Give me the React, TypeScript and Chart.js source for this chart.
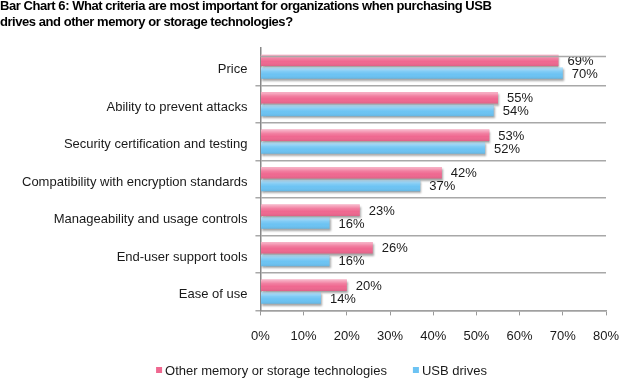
import React, { useEffect, useRef } from "react";
import { Chart, registerables } from "chart.js";

Chart.register(...registerables);

const titleLines = [
  "Bar Chart 6: What criteria are most important for organizations when purchasing USB",
  "drives and other memory or storage technologies?",
];
const categories = [
  "Price",
  "Ability to prevent attacks",
  "Security certification and testing",
  "Compatibility with encryption standards",
  "Manageability and usage controls",
  "End-user support tools",
  "Ease of use",
];
const otherMemory = [69, 55, 53, 42, 23, 26, 20];
const usbDrives = [70, 54, 52, 37, 16, 16, 14];
const seriesNames = ["Other memory or storage technologies", "USB drives"];
const seriesColors = ["#ef6890", "#6cc3f3"];
const xTicks = [0, 10, 20, 30, 40, 50, 60, 70, 80];

const FONT = "'Liberation Sans', Arial, sans-serif";

const barStyle = {
  id: "barStyle",
  beforeDatasetsDraw(chart: any) {
    const ctx = chart.ctx;
    ctx.save();
    ctx.shadowColor = "rgba(0,0,0,0.35)";
    ctx.shadowBlur = 2;
    ctx.shadowOffsetX = 1;
    ctx.shadowOffsetY = 2;
  },
  afterDatasetsDraw(chart: any) {
    const ctx = chart.ctx;
    ctx.restore();
    ctx.save();
    chart.data.datasets.forEach((ds: any, di: number) => {
      const meta = chart.getDatasetMeta(di);
      meta.data.forEach((bar: any, i: number) => {
        const top = bar.y - bar.height / 2;
        const h = bar.height;
        const left = Math.min(bar.base, bar.x);
        const w = Math.abs(bar.x - bar.base);
        const g = ctx.createLinearGradient(0, top, 0, top + h);
        g.addColorStop(0, "rgba(255,255,255,0.55)");
        g.addColorStop(0.35, "rgba(255,255,255,0.15)");
        g.addColorStop(0.6, "rgba(255,255,255,0)");
        g.addColorStop(1, "rgba(0,0,0,0.08)");
        ctx.fillStyle = g;
        ctx.fillRect(left, top, w, h);
        ctx.fillStyle = "#1a1a1a";
        ctx.font = `13px ${FONT}`;
        ctx.textAlign = "left";
        ctx.textBaseline = "middle";
        ctx.fillText(ds.data[i] + "%", bar.x + 9, bar.y + 1);
      });
    });
    const ys = chart.scales.y;
    const band = (ys.bottom - ys.top) / categories.length;
    const yTop = Math.round(ys.top + band * 0.22) + 0.5;
    ctx.strokeStyle = "#a8a8a8";
    ctx.lineWidth = 1.5;
    ctx.beginPath();
    ctx.moveTo(chart.chartArea.left, yTop);
    ctx.lineTo(chart.chartArea.right, yTop);
    ctx.stroke();
    ctx.restore();
  },
  afterDraw(chart: any) {
    const ctx = chart.ctx;
    // title
    ctx.save();
    ctx.font = `bold 13px ${FONT}`;
    (ctx as any).letterSpacing = "-0.45px";
    ctx.fillStyle = "#000";
    ctx.textAlign = "left";
    ctx.textBaseline = "alphabetic";
    titleLines.forEach((t, i) => ctx.fillText(t, 0, 10 + i * 16));
    ctx.restore();
    // legend
    ctx.save();
    ctx.font = `13px ${FONT}`;
    ctx.textBaseline = "middle";
    ctx.textAlign = "left";
    const box = 6;
    const gapBox = 3;
    const gapItem = 26;
    const widths = seriesNames.map((n) => box + gapBox + ctx.measureText(n).width);
    const total = widths.reduce((a, b) => a + b, 0) + gapItem * (widths.length - 1);
    let x = chart.width / 2 + 5 - total / 2;
    const y = chart.height - 19;
    seriesNames.forEach((n, i) => {
      ctx.fillStyle = seriesColors[i];
      ctx.fillRect(x, y - box / 2 - 1, box, box);
      ctx.fillStyle = "#1a1a1a";
      ctx.fillText(n, x + box + gapBox, y);
      x += widths[i] + gapItem;
    });
    ctx.restore();
  },
};

export default function App() {
  const ref = useRef<HTMLCanvasElement>(null);
  useEffect(() => {
    if (!ref.current) return;
    Chart.defaults.font.family = FONT;
    Chart.defaults.color = "#1a1a1a";
    const chart = new Chart(ref.current, {
      type: "bar",
      data: {
        labels: categories,
        datasets: [
          {
            label: seriesNames[0],
            data: otherMemory,
            backgroundColor: seriesColors[0],
            categoryPercentage: 0.68,
            barPercentage: 0.9,
          },
          {
            label: seriesNames[1],
            data: usbDrives,
            backgroundColor: seriesColors[1],
            categoryPercentage: 0.68,
            barPercentage: 0.9,
          },
        ],
      },
      options: {
        indexAxis: "y",
        animation: false,
        responsive: false,
        maintainAspectRatio: false,
        layout: { padding: { left: 0, right: 27, top: 48, bottom: 33 } },
        plugins: {
          title: { display: false },
          legend: { display: false },
          tooltip: { enabled: false },
        },
        scales: {
          x: {
            min: xTicks[0],
            max: xTicks[xTicks.length - 1],
            afterBuildTicks: (s: any) => {
              s.ticks = xTicks.map((v) => ({ value: v }));
            },
            ticks: {
              callback: (v: any) => v + "%",
              font: { size: 13 },
              padding: 13,
              color: "#1a1a1a",
            },
            grid: {
              drawOnChartArea: false,
              drawTicks: true,
              tickLength: 5,
              color: "#999",
            },
            border: { display: true, color: "#a0a0a0", width: 1.5 },
          },
          y: {
            afterFit: (s: any) => {
              s.width += 14;
            },
            ticks: {
              font: { size: 13 },
              padding: 8,
              labelOffset: 3,
              color: "#1a1a1a",
            },
            grid: {
              offset: true,
              drawTicks: true,
              tickLength: 5,
              color: (c: any) => (c.index === 0 ? "rgba(0,0,0,0)" : "#a8a8a8"),
              lineWidth: 1.5,
            },
            border: { display: true, color: "#888", width: 1.5 },
          },
        },
      },
      plugins: [barStyle],
    });
    return () => chart.destroy();
  }, []);
  return (
    <div style={{ position: "absolute", left: 0, top: 0, width: 633, height: 390, background: "#fff" }}>
      <canvas ref={ref} width={633} height={390} style={{ width: 633, height: 390 }} />
    </div>
  );
}
